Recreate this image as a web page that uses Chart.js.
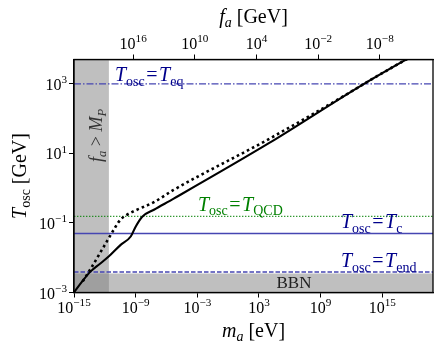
<!DOCTYPE html>
<html>
<head>
<meta charset="utf-8">
<script src="https://cdn.jsdelivr.net/npm/chart.js@4"></script>
<style>
  body { margin: 0; background: #fff; }
</style>
</head>
<body>
<canvas id="oscChart" width="441" height="350"></canvas>
<script>
// All values are log10
// tick exponents
const xTickExp = [-15, -9, -3, 3, 9, 15];    // m_a [eV]
const yTickExp = [-3, -1, 1, 3];             // T_osc [GeV]
const topTickExp = [16, 10, 4, -2, -8];      // f_a [GeV]

// solid curve
const solidLogM = [-15, -14.2, -13.4, -12.5, -11.6, -10.46, -9.48, -8.99, -8.36, -7.22, -5.3, 4.0, 13.1, 20];
const solidLogT = [-3, -2.68, -2.4, -2.18, -1.96, -1.63, -1.39, -1.1, -0.82, -0.62, -0.3, 1.3, 2.98, 4.15];

// dotted curve
const dottedLogM = [-14.15, -13.4, -12.1, -11.0, -10.7, -10.4, -10.0, -9.16, -7.22, -5.3, 4.0, 12.5, 13.1, 20];
const dottedLogT = [-2.68, -2.33, -1.68, -1.13, -0.99, -0.88, -0.79, -0.66, -0.4, -0.05, 1.42, 2.87, 2.98, 4.15];

// horizontal reference temperatures [GeV]
const tEq = 1000;
const tQCD = 0.155;
const tC = 0.05;
const tEnd = 0.0039;
const bbnTop = 0.0035;

const logPlanckEdge = -11.6;   // m_a where f_a = M_P
const logMaFa = 6.756;         // log10(m_a [eV] * f_a [GeV])

const xMin = 1e-15, xMax = Math.pow(10, 19.93);
const yMin = 1e-3, yMax = Math.pow(10, 3.7);

const FONT = '"Liberation Serif", "DejaVu Serif", serif';
const BAND = "rgba(128, 128, 128, 0.5)";
const BLUE_LINE = "rgb(70, 70, 178)";
const BLUE_TEXT = "#00008b";

function pts(ms, ts) {
  return ms.map(function (m, i) {
    return { x: Math.pow(10, m), y: Math.pow(10, ts[i]) };
  });
}
function hline(v) {
  return [{ x: xMin, y: v }, { x: xMax, y: v }];
}

// draw text made of pieces: [text, italic, shift] shift 1 = subscript, -1 = superscript
function rich(ctx, parts, x, y, align, size, color) {
  let total = 0;
  const items = parts.map(function (p) {
    const s = p[2] ? size * 0.7 : size;
    const font = (p[1] ? "italic " : "") + s + "px " + FONT;
    ctx.font = font;
    const w = ctx.measureText(p[0]).width + (p[3] || 0);
    total += w;
    let dy = 0;
    if (p[2] === 1) dy = size * 0.22;
    if (p[2] === -1) dy = -size * 0.43;
    return { t: p[0], font: font, w: w, dy: dy, pad: (p[3] || 0) / 2 };
  });
  let cx = x;
  if (align === "center") cx = x - total / 2;
  if (align === "right") cx = x - total;
  ctx.fillStyle = color;
  ctx.textAlign = "left";
  ctx.textBaseline = "alphabetic";
  items.forEach(function (it) {
    ctx.font = it.font;
    ctx.fillText(it.t, cx + it.pad, y + it.dy);
    cx += it.w;
  });
}

function rotated(ctx, parts, x, y, size, color) {
  ctx.save();
  ctx.translate(x, y);
  ctx.rotate(-Math.PI / 2);
  rich(ctx, parts, 0, 0, "center", size, color);
  ctx.restore();
}

function powerLabel(ctx, value, x, y, align) {
  const e = Math.round(Math.log10(value));
  const expText = (e < 0 ? "\u2212" : "") + Math.abs(e);
  rich(ctx, [["10", 0, 0], [expText, 0, -1]], x, y, align, 16, "#000");
}

function oscLabel(sub) {
  return [["T", 1, 0], ["osc", 0, 1], ["=", 0, 0, 3], ["T", 1, 0], [sub, 0, 1]];
}

const decorations = {
  id: "decorations",
  afterDatasetsDraw(chart) {
    const ctx = chart.ctx;
    const a = chart.chartArea;
    const sx = chart.scales.x, sy = chart.scales.y, st = chart.scales.x2;
    ctx.save();

    // frame
    ctx.strokeStyle = "#000";
    ctx.lineWidth = 1.3;
    ctx.strokeRect(a.left, a.top, a.right - a.left, a.bottom - a.top);

    // tick labels
    sx.ticks.forEach(function (t) {
      powerLabel(ctx, t.value, sx.getPixelForValue(t.value), a.bottom + 20, "center");
    });
    st.ticks.forEach(function (t) {
      powerLabel(ctx, t.value, st.getPixelForValue(t.value), a.top - 11, "center");
    });
    sy.ticks.forEach(function (t) {
      powerLabel(ctx, t.value, a.left - 7, sy.getPixelForValue(t.value) + 6, "right");
    });

    // axis titles
    rich(ctx, [["m", 1, 0], ["a", 1, 1], [" [eV]", 0, 0]], (a.left + a.right) / 2, a.bottom + 44, "center", 20, "#000");
    rich(ctx, [["f", 1, 0], ["a", 1, 1], [" [GeV]", 0, 0]], (a.left + a.right) / 2, a.top - 37, "center", 20, "#000");
    rotated(ctx, [["T", 1, 0], ["osc", 0, 1], [" [GeV]", 0, 0]], 26, (a.top + a.bottom) / 2, 20, "#000");

    // annotations
    rich(ctx, oscLabel("eq"), a.left + 41, sy.getPixelForValue(tEq) - 2.5, "left", 20, BLUE_TEXT);
    rich(ctx, oscLabel("QCD"), a.left + 124, sy.getPixelForValue(tQCD) - 5.5, "left", 20, "green");
    rich(ctx, oscLabel("c"), a.left + 267, sy.getPixelForValue(tC) - 5.2, "left", 20, BLUE_TEXT);
    rich(ctx, oscLabel("end"), a.left + 267, sy.getPixelForValue(tEnd) - 4.7, "left", 20, BLUE_TEXT);
    rich(ctx, [["BBN", 0, 0]], a.left + 220, a.bottom - 4.5, "center", 17, "#222");
    rotated(ctx, [["f", 1, 0], ["a", 1, 1], [" > ", 0, 0], ["M", 1, 0], ["P", 1, 1]], a.left + 28, a.top + 76, 18, "#333");

    ctx.restore();
  },
};

function axisOpts(position, min, max, exps, reverse) {
  return {
    type: "logarithmic",
    position: position,
    min: min,
    max: max,
    reverse: reverse,
    afterBuildTicks: function (axis) {
      axis.ticks = exps.map(function (e) {
        return { value: Math.pow(10, e) };
      });
    },
    ticks: { display: false },
    grid: {
      drawOnChartArea: false,
      drawTicks: true,
      tickLength: 5,
      color: "#000",
      tickWidth: 1,
    },
    border: { color: "#000", width: 1.3 },
  };
}

new Chart(document.getElementById("oscChart"), {
  type: "line",
  data: {
    datasets: [
      {
        data: [{ x: xMin, y: yMax }, { x: Math.pow(10, logPlanckEdge), y: yMax }],
        fill: "start",
        backgroundColor: BAND,
        borderColor: "rgba(0,0,0,0)",
        borderWidth: 0,
        order: 10,
      },
      {
        data: hline(bbnTop),
        fill: "start",
        backgroundColor: BAND,
        borderColor: "rgba(0,0,0,0)",
        borderWidth: 0,
        order: 10,
      },
      {
        data: hline(tEq),
        borderColor: BLUE_LINE,
        borderWidth: 1.4,
        borderDash: [7, 2, 1.5, 2],
        order: 3,
      },
      {
        data: hline(tQCD),
        borderColor: "rgba(0, 128, 0, 0.8)",
        borderWidth: 1.3,
        borderDash: [1.4, 1.6],
        order: 3,
      },
      {
        data: hline(tC),
        borderColor: BLUE_LINE,
        borderWidth: 1.5,
        order: 3,
      },
      {
        data: hline(tEnd),
        borderColor: BLUE_LINE,
        borderWidth: 1.4,
        borderDash: [4.5, 2],
        order: 3,
      },
      {
        data: pts(dottedLogM, dottedLogT),
        borderColor: "#000",
        borderWidth: 2.6,
        borderDash: [2.6, 3.1],
        cubicInterpolationMode: "monotone",
        order: 2,
      },
      {
        data: pts(solidLogM, solidLogT),
        borderColor: "#000",
        borderWidth: 2.1,
        cubicInterpolationMode: "monotone",
        order: 1,
      },
    ],
  },
  options: {
    responsive: false,
    animation: false,
    devicePixelRatio: 1,
    parsing: false,
    elements: { point: { radius: 0 } },
    layout: { padding: { left: 69, right: 8, top: 54.5, bottom: 52.5 } },
    plugins: {
      legend: { display: false },
      tooltip: { enabled: false },
    },
    scales: {
      x: axisOpts("bottom", xMin, xMax, xTickExp, false),
      x2: axisOpts("top", Math.pow(10, logMaFa - 19.93), Math.pow(10, logMaFa + 15), topTickExp, true),
      y: axisOpts("left", yMin, yMax, yTickExp, false),
    },
  },
  plugins: [decorations],
});
</script>
</body>
</html>
